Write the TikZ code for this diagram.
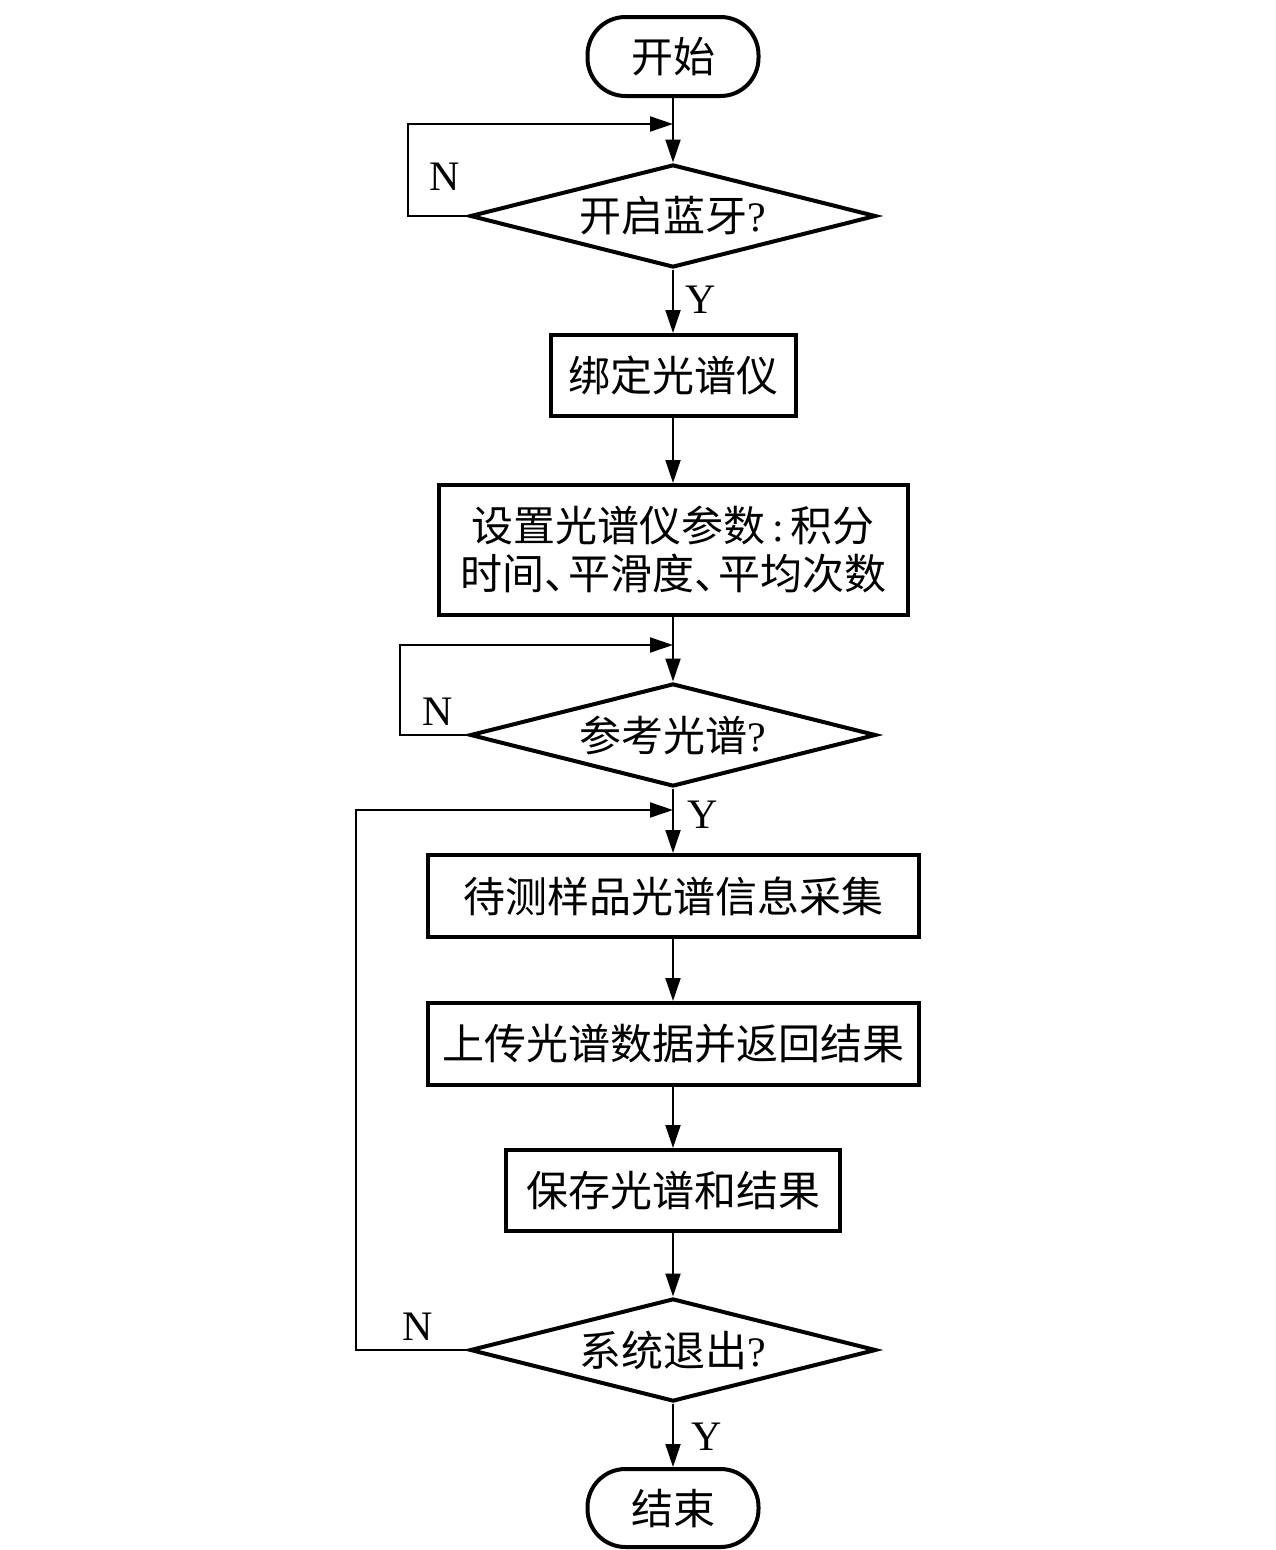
\documentclass[tikz,border=0pt]{standalone}
\usepackage{fontspec}
\setmainfont{Liberation Serif}
\newfontfamily\cjk{Noto Sans CJK SC}
\usetikzlibrary{arrows.meta,shapes.geometric}
\begin{document}
\begin{tikzpicture}[x=1pt,y=-1pt,
 every node/.style={font=\fontsize{42}{50}\selectfont},
 box/.style={draw,line width=4pt,inner sep=0pt,align=center},
 term/.style={box,rounded corners=38pt},
 dec/.style={draw,diamond,line width=4pt,inner sep=0pt,aspect=3.94,minimum width=406pt,minimum height=103pt},
 conn/.style={line width=2pt},
 arr/.style={conn,-{Triangle[length=23pt,width=15pt]}},
 lab/.style={inner sep=0pt}
]
\useasboundingbox (0,0) rectangle (1276,1550);
\node[term,minimum width=171pt,minimum height=79pt] (start) at (673,56.5) {\cjk 开始};
\node[dec] (d1) at (673,216) {{\cjk 开启蓝牙}?};
\node[box,minimum width=245pt,minimum height=81pt] (b1) at (673,375.5) {\cjk 绑定光谱仪};
\node[box,minimum width=469pt,minimum height=130pt] (b2) at (673,550) {{\cjk 设置光谱仪参数}\,:\,{\cjk 积分}\\[-2pt]{\cjk 时间、\kern-18pt 平滑度、\kern-18pt 平均次数}};
\node[dec] (d2) at (673,735) {{\cjk 参考光谱}?};
\node[box,minimum width=491pt,minimum height=82pt] (b3) at (673,896) {\cjk 待测样品光谱信息采集};
\node[box,minimum width=491pt,minimum height=82pt] (b4) at (673,1044) {\cjk 上传光谱数据并返回结果};
\node[box,minimum width=334pt,minimum height=81pt] (b5) at (673,1190.5) {\cjk 保存光谱和结果};
\node[dec] (d3) at (673,1350) {{\cjk 系统退出}?};
\node[term,minimum width=171pt,minimum height=78pt] (end) at (673,1508) {\cjk 结束};

\coordinate (j1) at (673,124);
\coordinate (l1) at (408,124);
\coordinate (j2) at (673,645);
\coordinate (l2) at (400,645);
\coordinate (j3) at (673,810);
\coordinate (l3) at (356,810);

\draw[arr] (start.south) -- (d1.north);
\draw[arr] (d1.west) -| (l1) -- (j1);
\draw[arr] (d1.south) -- (b1.north);
\draw[arr] (b1.south) -- (b2.north);
\draw[arr] (b2.south) -- (d2.north);
\draw[arr] (d2.west) -| (l2) -- (j2);
\draw[arr] (d2.south) -- (b3.north);
\draw[arr] (d3.west) -| (l3) -- (j3);
\draw[arr] (b3.south) -- (b4.north);
\draw[arr] (b4.south) -- (b5.north);
\draw[arr] (b5.south) -- (d3.north);
\draw[arr] (d3.south) -- (end.north);

\node[lab] (n1) at (445,177) {N};
\node[lab] (y1) at (701,300) {Y};
\node[lab] (n2) at (438,712) {N};
\node[lab] (y2) at (703,815) {Y};
\node[lab] (n3) at (418,1327) {N};
\node[lab] (y3) at (707,1437) {Y};
\end{tikzpicture}
\end{document}
